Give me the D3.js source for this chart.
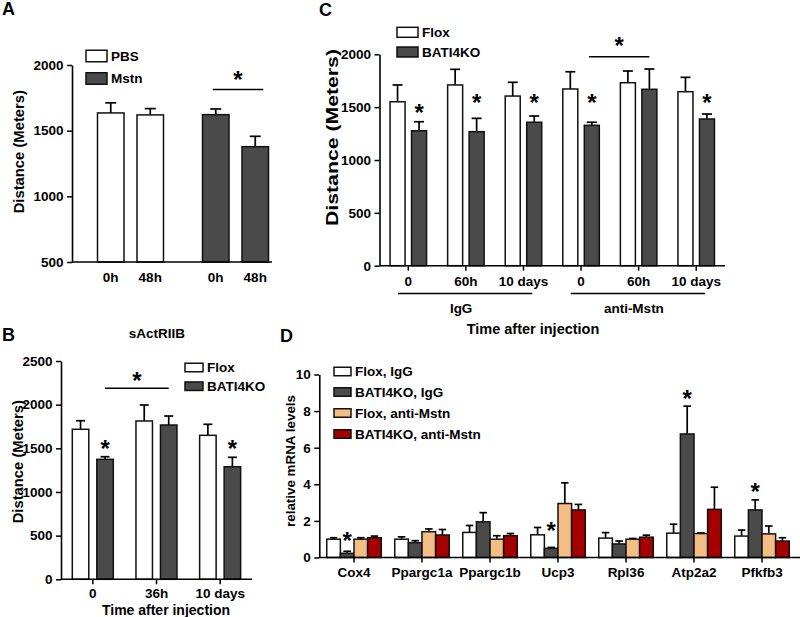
<!DOCTYPE html>
<html><head><meta charset="utf-8">
<script src="https://cdn.jsdelivr.net/npm/d3@7"></script>
<style>body{margin:0;background:#fff}</style>
</head><body><svg id="c" width="800" height="617"></svg>
<script>
// ---------- Panel A ----------
const aGroups = ["PBS", "Mstn"];
const aTimes = ["0h", "48h"];
const aMean = [[1635, 1620], [1622, 1378]];
const aSem = [[77, 48], [43, 79]];
const aYTicks = [500, 1000, 1500, 2000];
const aSigValue = 1813, aSigStar = 1927;

// ---------- Panel B ----------
const bTitle = "sActRIIB";
const bTimes = ["0", "36h", "10 days"];
const bSeries = ["Flox", "BATI4KO"];
const bFlox = [1718, 1813, 1649];
const bFloxSem = [98, 183, 126];
const bKO = [1374, 1767, 1289];
const bKOSem = [30, 103, 108];
const bYTicks = [0, 500, 1000, 1500, 2000, 2500];
const bStars = [{t: "0", v: 1560}, {t: "10 days", v: 1560}];
const bSigValue = 2187, bSigStar = 2340;

// ---------- Panel C ----------
const cTreat = ["IgG", "anti-Mstn"];
const cTimes = ["0", "60h", "10 days"];
const cSeries = ["Flox", "BATI4KO"];
const cFlox = [1551, 1710, 1605, 1672, 1731, 1646];
const cFloxSem = [159, 148, 130, 163, 111, 136];
const cKO = [1277, 1268, 1357, 1328, 1669, 1388];
const cKOSem = [85, 126, 59, 29, 192, 47];
const cYTicks = [0, 500, 1000, 1500, 2000];
const cStarIdx = [0, 1, 2, 3, 5];
const cStarVals = [1500, 1590, 1590, 1590, 1590];
const cSigValue = 1977, cSigStar = 2128;

// ---------- Panel D ----------
const dGenes = ["Cox4", "Ppargc1a", "Ppargc1b", "Ucp3", "Rpl36", "Atp2a2", "Pfkfb3"];
const dSeries = ["Flox, IgG", "BATI4KO, IgG", "Flox, anti-Mstn", "BATI4KO, anti-Mstn"];
const dFloxIgG = [1.00, 1.00, 1.37, 1.24, 1.06, 1.33, 1.17];
const dFloxIgGSem = [0.08, 0.13, 0.38, 0.40, 0.30, 0.49, 0.33];
const dKOIgG = [0.23, 0.81, 1.95, 0.50, 0.74, 6.75, 2.60];
const dKOIgGSem = [0.11, 0.11, 0.50, 0.05, 0.16, 1.52, 0.55];
const dFloxAnti = [1.00, 1.41, 1.00, 2.95, 1.00, 1.31, 1.29];
const dFloxAntiSem = [0.08, 0.15, 0.19, 1.13, 0.04, 0.03, 0.43];
const dKOAnti = [1.08, 1.23, 1.19, 2.60, 1.11, 2.63, 0.90];
const dKOAntiSem = [0.09, 0.30, 0.12, 0.30, 0.11, 1.21, 0.18];
const dYTicks = [0, 2, 4, 6, 8, 10];
const dStarGenes = ["Cox4", "Ucp3", "Atp2a2", "Pfkfb3"];
const dStarVals = [1.23, 1.78, 8.97, 3.9];

// ---------- drawing ----------
const FONT = "'Liberation Sans', Arial, Helvetica, sans-serif";
const COL = {white: "#ffffff", dark: "#4a4a4a", orange: "#f4bd84", red: "#a50000"};
const svg = d3.select("#c");
svg.append("rect").attr("width", 800).attr("height", 617).attr("fill", "#fff");

function txt(x, y, s, fs, anchor = "middle", rot = false) {
  const t = svg.append("text").attr("font-family", FONT).attr("font-weight", "bold")
    .attr("font-size", fs).attr("text-anchor", anchor).attr("fill", "#000").text(s);
  if (rot) t.attr("transform", `translate(${x},${y}) rotate(-90)`);
  else t.attr("x", x).attr("y", y);
  return t;
}
function star(x, cy, fs = 24) { txt(x, cy + 0.57 * fs, "*", fs); }
function yAxis(scale, x, ticks) {
  const g = svg.append("g").attr("transform", `translate(${x},0)`)
    .call(d3.axisLeft(scale).tickValues(ticks).tickSize(5).tickSizeOuter(0).tickPadding(3.5).tickFormat(d3.format("d")));
  g.select(".domain").attr("stroke", "#000").attr("stroke-width", 1.6);
  g.selectAll(".tick line").attr("stroke", "#000").attr("stroke-width", 1.5);
  g.selectAll(".tick text").attr("font-family", FONT).attr("font-weight", "bold").attr("font-size", 13.5).attr("fill", "#000");
}
function xAxis(scale, y, x0, x1, fmt, pad, ticks = true) {
  svg.append("line").attr("x1", x0).attr("x2", x1).attr("y1", y).attr("y2", y)
    .attr("stroke", "#000").attr("stroke-width", 1.6);
  const g = svg.append("g").attr("transform", `translate(0,${y})`)
    .call(d3.axisBottom(scale).tickSize(ticks ? 5 : 0).tickPadding(pad).tickFormat(fmt));
  g.select(".domain").remove();
  g.selectAll(".tick line").attr("stroke", "#000").attr("stroke-width", 1.5);
  g.selectAll(".tick text").attr("font-family", FONT).attr("font-weight", "bold").attr("font-size", 13.5).attr("fill", "#000");
}
function bar(x, w, yScale, v, sem, fill, cap) {
  const y0 = yScale.range()[0];
  const cx = x + w / 2, yt = yScale(v), ye = yScale(v + sem);
  svg.append("line").attr("x1", cx).attr("x2", cx).attr("y1", yt).attr("y2", ye).attr("stroke", "#000").attr("stroke-width", 1.7);
  svg.append("line").attr("x1", cx - cap / 2).attr("x2", cx + cap / 2).attr("y1", ye).attr("y2", ye).attr("stroke", "#000").attr("stroke-width", 1.7);
  svg.append("rect").attr("x", x).attr("y", yt).attr("width", w).attr("height", y0 - yt)
    .attr("fill", fill).attr("stroke", "#111").attr("stroke-width", 1.5);
}
function legend(x, ys, labels, fills, bw, bh, fs) {
  labels.forEach((l, i) => {
    svg.append("rect").attr("x", x).attr("y", ys[i] - bh / 2).attr("width", bw).attr("height", bh)
      .attr("fill", fills[i]).attr("stroke", "#111").attr("stroke-width", 1.5);
    txt(x + bw + 4, ys[i] + 0.36 * fs, l, fs, "start");
  });
}
function hline(x1, x2, y) {
  svg.append("line").attr("x1", x1).attr("x2", x2).attr("y1", y).attr("y2", y).attr("stroke", "#000").attr("stroke-width", 1.5);
}

// ===== Panel A =====
{
  const y = d3.scaleLinear([500, 2000], [262, 65]);
  const xo = d3.scaleBand(aGroups, [78, 288]);
  const xi = d3.scaleBand(aTimes, [19.5, 85.5]).paddingInner(0.329);
  const fills = [COL.white, COL.dark];
  aGroups.forEach((g, gi) => aTimes.forEach((t, ti) => {
    const x = xo(g) + xi(t);
    bar(x, xi.bandwidth(), y, aMean[gi][ti], aSem[gi][ti], fills[gi], 11);
    txt(x + xi.bandwidth() / 2, 281.6, t, 13.5);
  }));
  yAxis(y, 72, aYTicks);
  hline(72, 272, 262);
  const c0 = xo("Mstn") + xi("0h") + xi.bandwidth() / 2, c1 = xo("Mstn") + xi("48h") + xi.bandwidth() / 2;
  hline(c0 - 3, c1 + 8, y(aSigValue));
  star((c0 + c1) / 2 + 2.5, y(aSigStar));
  legend(86, [56, 78.5], aGroups, fills, 21, 11.5, 13.5);
  txt(23.5, 151.7, "Distance (Meters)", 14.8, "middle", true);
  txt(2, 15, "A", 18, "start");
}

// ===== Panel B =====
{
  const y = d3.scaleLinear([0, 2500], [579.3, 361]);
  const xo = d3.scaleBand(bTimes, [61, 252]);
  const xi = d3.scaleBand(bSeries, [11.3, 52.3]).paddingInner(0.327);
  const vals = [bFlox, bKO], sems = [bFloxSem, bKOSem], fills = [COL.white, COL.dark];
  bTimes.forEach((t, ti) => bSeries.forEach((s, si) => {
    bar(xo(t) + xi(s), xi.bandwidth(), y, vals[si][ti], sems[si][ti], fills[si], 9);
  }));
  yAxis(y, 61, bYTicks);
  xAxis(xo, 579.3, 61, 252, d => d, 4.5);
  const kc = t => xo(t) + xi("BATI4KO") + xi.bandwidth() / 2;
  bStars.forEach(s => star(kc(s.t), y(s.v)));
  hline(kc("0"), kc("36h"), y(bSigValue));
  star((kc("0") + kc("36h")) / 2, y(bSigStar));
  legend(185, [367.5, 386.2], bSeries, fills, 18, 8.5, 13.5);
  txt(157, 337.5, bTitle, 13.5);
  txt(166, 614.5, "Time after injection", 14);
  txt(22.5, 461.7, "Distance (Meters)", 14.8, "middle", true);
  txt(2, 341, "B", 18, "start");
}

// ===== Panel C =====
{
  const y = d3.scaleLinear([0, 2000], [265.7, 54.3]);
  const cats = [];
  cTreat.forEach(tr => cTimes.forEach(t => cats.push(tr + "|" + t)));
  const xo = d3.scaleBand(cats, [379.5, 725]);
  const xi = d3.scaleBand(cSeries, [10.55, 47.05]).paddingInner(0.302);
  const vals = [cFlox, cKO], sems = [cFloxSem, cKOSem], fills = [COL.white, COL.dark];
  cats.forEach((c, ci) => cSeries.forEach((s, si) => {
    bar(xo(c) + xi(s), xi.bandwidth(), y, vals[si][ci], sems[si][ci], fills[si], 10);
  }));
  yAxis(y, 379.5, cYTicks);
  xAxis(xo, 265.7, 379.5, 725, d => d.split("|")[1], 6);
  const kc = c => xo(c) + xi("BATI4KO") + xi.bandwidth() / 2;
  cStarIdx.forEach((ci, k) => star(kc(cats[ci]), y(cStarVals[k])));
  const s0 = xo(cats[3]) + xo.bandwidth() / 2, s1 = kc(cats[4]);
  hline(s0 + 8, s1, y(cSigValue));
  star((s0 + 8 + s1) / 2, y(cSigStar));
  // treatment underlines
  cTreat.forEach((tr, i) => {
    const a = xo(cats[i * 3]) + 18.5, b = xo(cats[i * 3 + 2]) + xo.bandwidth() - 20;
    hline(a, b, 293.5);
    txt((a + b) / 2 - 4, 313, tr, 13.5);
  });
  txt(533, 334, "Time after injection", 14.5);
  legend(397, [32.3, 52], cSeries, fills, 21, 10, 13.5);
  txt(338, 137.5, "Distance (Meters)", 16, "middle", true).attr("textLength", 177).attr("lengthAdjust", "spacingAndGlyphs");
  txt(319, 16, "C", 18, "start");
}

// ===== Panel D =====
{
  const y = d3.scaleLinear([0, 10], [557.5, 374.5]);
  const xo = d3.scaleBand(dGenes, [320, 796]);
  const xi = d3.scaleBand(dSeries, [6.75, 61.25]);
  const vals = [dFloxIgG, dKOIgG, dFloxAnti, dKOAnti];
  const sems = [dFloxIgGSem, dKOIgGSem, dFloxAntiSem, dKOAntiSem];
  const fills = [COL.white, COL.dark, COL.orange, COL.red];
  dGenes.forEach((g, gi) => dSeries.forEach((s, si) => {
    bar(xo(g) + xi(s), xi.bandwidth(), y, vals[si][gi], sems[si][gi], fills[si], 7.5);
  }));
  yAxis(y, 319.3, dYTicks);
  xAxis(xo, 557.5, 319.3, 800, d => d, 4.5);
  dStarGenes.forEach((g, k) => star(xo(g) + xi(dSeries[1]) + xi.bandwidth() / 2, y(dStarVals[k])));
  legend(334, [371.5, 392, 413, 434], dSeries, fills, 17, 8.5, 13.5);
  txt(295, 461, "relative mRNA levels", 13.4, "middle", true);
  txt(280, 342, "D", 18, "start");
}
</script></body></html>
